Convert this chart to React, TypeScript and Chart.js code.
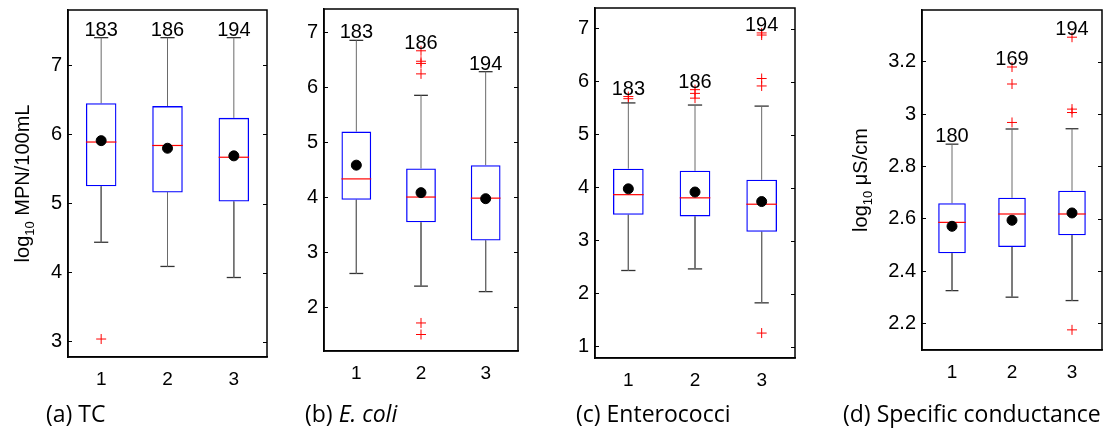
import React, { useEffect, useRef } from "react";
import { Chart, registerables } from "chart.js";

Chart.register(...registerables);

const FONT = "'Liberation Sans', Arial, Helvetica, sans-serif";
const CAPTION_FONT = "'Open Sans', 'Noto Sans', sans-serif";

// ---------- data ----------
const categories = [1, 2, 3];
const categoryLabels = ["1", "2", "3"];

// (a) TC
const tcQ1 = [5.25, 5.16, 5.03];
const tcQ3 = [6.45, 6.41, 6.24];
const tcMedian = [5.89, 5.84, 5.67];
const tcMean = [5.91, 5.8, 5.69];
const tcLow = [4.44, 4.09, 3.93];
const tcHigh = [7.4, 7.4, 7.4];
const tcOutX = [1];
const tcOutY = [3.04];
const tcCounts = [183, 186, 194];
const tcTicks = [3, 4, 5, 6, 7];

// (b) E. coli
const ecQ1 = [3.95, 3.54, 3.21];
const ecQ3 = [5.19, 4.52, 4.58];
const ecMedian = [4.33, 4.0, 3.98];
const ecMean = [4.58, 4.08, 3.97];
const ecLow = [2.61, 2.38, 2.28];
const ecHigh = [6.85, 5.85, 6.28];
const ecOutX = [2, 2, 2, 2, 2, 2];
const ecOutY = [6.66, 6.47, 6.43, 6.24, 1.71, 1.5];
const ecCounts = [183, 186, 194];
const ecTicks = [2, 3, 4, 5, 6, 7];

// (c) Enterococci
const enQ1 = [3.49, 3.46, 3.17];
const enQ3 = [4.36, 4.32, 4.15];
const enMedian = [3.87, 3.81, 3.69];
const enMean = [3.98, 3.92, 3.74];
const enLow = [2.44, 2.47, 1.83];
const enHigh = [5.6, 5.56, 5.54];
const enOutX = [1, 1, 2, 2, 2, 3, 3, 3, 3, 3];
const enOutY = [5.72, 5.68, 5.85, 5.78, 5.69, 6.92, 6.88, 6.06, 5.92, 1.26];
const enCounts = [183, 186, 194];
const enTicks = [1, 2, 3, 4, 5, 6, 7];

// (d) Specific conductance
const scQ1 = [2.468, 2.492, 2.537];
const scQ3 = [2.659, 2.68, 2.707];
const scMedian = [2.586, 2.618, 2.618];
const scMean = [2.571, 2.594, 2.622];
const scLow = [2.325, 2.3, 2.287];
const scHigh = [2.885, 2.943, 2.944];
const scOutX = [2, 2, 2, 3, 3, 3, 3];
const scOutY = [3.18, 3.115, 2.968, 3.294, 3.019, 3.006, 2.175];
const scCounts = [180, 169, 194];
const scTicks = [2.2, 2.4, 2.6, 2.8, 3, 3.2];

const titleMPN = ["log", "10", " MPN/100mL"];
const titleUS = ["log", "10", " \u03BCS/cm"];

const captionA = ["(a) ", "TC"];
const captionB = ["(b) ", "E. coli"];
const captionC = ["(c) ", "Enterococci"];
const captionD = ["(d) ", "Specific conductance"];

// ---------- layout (positions only) ----------
const CANVAS_H = 400;
const BOX_FRACTION = 0.46;

type PanelData = {
  q1: number[]; q3: number[]; median: number[]; mean: number[];
  low: number[]; high: number[]; outX: number[]; outY: number[];
  counts: number[]; yTicks: number[];
};
type PanelLayout = {
  left: number; width: number; plotLeft: number; plotRight: number;
  plotTop: number; plotBottom: number; yMin: number; yMax: number;
  title?: string[]; titleX?: number;
};

const panels: { data: PanelData; layout: PanelLayout }[] = [
  {
    data: { q1: tcQ1, q3: tcQ3, median: tcMedian, mean: tcMean, low: tcLow, high: tcHigh, outX: tcOutX, outY: tcOutY, counts: tcCounts, yTicks: tcTicks },
    layout: { left: 0, width: 280, plotLeft: 68, plotRight: 267, plotTop: 10, plotBottom: 357, yMin: 2.78, yMax: 7.8, title: titleMPN, titleX: 28.5 },
  },
  {
    data: { q1: ecQ1, q3: ecQ3, median: ecMedian, mean: ecMean, low: ecLow, high: ecHigh, outX: ecOutX, outY: ecOutY, counts: ecCounts, yTicks: ecTicks },
    layout: { left: 280, width: 270, plotLeft: 44, plotRight: 238, plotTop: 9, plotBottom: 351, yMin: 1.2, yMax: 7.42 },
  },
  {
    data: { q1: enQ1, q3: enQ3, median: enMedian, mean: enMean, low: enLow, high: enHigh, outX: enOutX, outY: enOutY, counts: enCounts, yTicks: enTicks },
    layout: { left: 550, width: 260, plotLeft: 45, plotRight: 245, plotTop: 8, plotBottom: 358, yMin: 0.79, yMax: 7.39 },
  },
  {
    data: { q1: scQ1, q3: scQ3, median: scMedian, mean: scMean, low: scLow, high: scHigh, outX: scOutX, outY: scOutY, counts: scCounts, yTicks: scTicks },
    layout: { left: 810, width: 300, plotLeft: 112, plotRight: 292, plotTop: 10, plotBottom: 350, yMin: 2.098, yMax: 3.398, title: titleUS, titleX: 56.5 },
  },
];

const captions = [
  { parts: captionA, italic: false, x: 46 },
  { parts: captionB, italic: true, x: 305 },
  { parts: captionC, italic: false, x: 576 },
  { parts: captionD, italic: false, x: 843 },
];

function drawRotatedTitle(ctx: CanvasRenderingContext2D, parts: string[], x: number, cy: number) {
  const [a, sub, b] = parts;
  ctx.save();
  ctx.translate(x, cy);
  ctx.rotate(-Math.PI / 2);
  ctx.fillStyle = "#000";
  ctx.textBaseline = "alphabetic";
  ctx.textAlign = "left";
  const big = `20px ${FONT}`;
  const small = `13px ${FONT}`;
  ctx.font = big;
  const wa = ctx.measureText(a).width;
  const wb = ctx.measureText(b).width;
  ctx.font = small;
  const ws = ctx.measureText(sub).width;
  let px = -(wa + ws + wb) / 2;
  ctx.font = big;
  ctx.fillText(a, px, 0);
  px += wa;
  ctx.font = small;
  ctx.fillText(sub, px, 5);
  px += ws;
  ctx.font = big;
  ctx.fillText(b, px, 0);
  ctx.restore();
}

function BoxPanel({ data, layout }: { data: PanelData; layout: PanelLayout }) {
  const ref = useRef<HTMLCanvasElement>(null);

  useEffect(() => {
    const canvas = ref.current;
    if (!canvas) return;
    const d = data;
    const L = layout;
    const pts = (arr: number[]) => arr.map((v, i) => ({ x: categories[i], y: v }));

    const whiskers: { x: number; y: number | null }[] = [];
    categories.forEach((c, i) => {
      whiskers.push({ x: c, y: d.q3[i] }, { x: c, y: d.high[i] }, { x: c, y: null });
      whiskers.push({ x: c, y: d.q1[i] }, { x: c, y: d.low[i] }, { x: c, y: null });
    });
    const caps = [...pts(d.high), ...pts(d.low)];
    const outliers = d.outX.map((x, i) => ({ x, y: d.outY[i] }));

    const unitPx = (ctx: any) => {
      const sc = ctx.chart.scales.x;
      return Math.abs(sc.getPixelForValue(2) - sc.getPixelForValue(1));
    };
    const halfBox = (ctx: any) => (unitPx(ctx) * BOX_FRACTION) / 2;
    const halfCap = (ctx: any) => (unitPx(ctx) * BOX_FRACTION) / 4.3;

    const framePlugin = {
      id: "frame",
      afterDraw(chart: any) {
        const { ctx, chartArea, scales } = chart;
        const { left, top, right, bottom } = chartArea;
        ctx.save();
        ctx.strokeStyle = "#000";
        ctx.lineWidth = 1.5;
        ctx.strokeRect(left, top, right - left, bottom - top);
        ctx.lineWidth = 1;
        scales.y.ticks.forEach((t: any) => {
          const py = Math.round(scales.y.getPixelForValue(t.value)) + 0.5;
          ctx.beginPath();
          ctx.moveTo(right, py);
          ctx.lineTo(right - 4, py);
          ctx.stroke();
        });
        if (L.title && L.titleX !== undefined) {
          drawRotatedTitle(ctx, L.title, L.titleX, (top + bottom) / 2);
        }
        ctx.restore();
      },
    };

    const countPlugin = {
      id: "counts",
      afterDatasetsDraw(chart: any) {
        const { ctx, scales } = chart;
        ctx.save();
        ctx.font = `20px ${FONT}`;
        ctx.fillStyle = "#000";
        ctx.textAlign = "center";
        ctx.textBaseline = "alphabetic";
        categories.forEach((c, i) => {
          const outs = d.outY.filter((_, k) => d.outX[k] === c);
          const topVal = Math.max(d.high[i], ...outs);
          ctx.fillText(String(d.counts[i]), scales.x.getPixelForValue(c), scales.y.getPixelForValue(topVal) - 2);
        });
        ctx.restore();
      },
    };

    const chart = new Chart(canvas, {
      type: "bar",
      data: {
        datasets: [
          {
            type: "line",
            label: "Mean",
            data: pts(d.mean),
            showLine: false,
            pointStyle: "circle",
            pointRadius: 5,
            pointBackgroundColor: "#000",
            pointBorderColor: "#000",
            pointBorderWidth: 1,
          },
          {
            type: "line",
            label: "Median",
            data: pts(d.median),
            showLine: false,
            pointStyle: "line",
            pointRadius: halfBox,
            pointBorderColor: "#ff0000",
            pointBorderWidth: 1.2,
          },
          {
            type: "bar",
            label: "Interquartile range",
            data: categories.map((c, i) => ({ x: c, y: [d.q1[i], d.q3[i]] })),
            backgroundColor: "rgba(0,0,0,0)",
            borderColor: "#0000ff",
            borderWidth: 1.3,
            borderSkipped: false,
            barPercentage: BOX_FRACTION,
            categoryPercentage: 1,
          },
          {
            type: "line",
            label: "Whiskers",
            data: whiskers,
            borderColor: "#6a6a6a",
            borderWidth: 1,
            pointRadius: 0,
            spanGaps: false,
          },
          {
            type: "line",
            label: "Whisker caps",
            data: caps,
            showLine: false,
            pointStyle: "line",
            pointRadius: halfCap,
            pointBorderColor: "#333",
            pointBorderWidth: 1.3,
          },
          {
            type: "line",
            label: "Outliers",
            data: outliers,
            showLine: false,
            pointStyle: "cross",
            pointRadius: 5,
            pointBorderColor: "#ff0000",
            pointBorderWidth: 1,
          },
        ] as any,
      },
      options: {
        animation: false,
        responsive: false,
        events: [],
        layout: {
          padding: { left: 0, right: L.width - L.plotRight, top: L.plotTop, bottom: 0 },
        },
        plugins: { legend: { display: false }, tooltip: { enabled: false } },
        scales: {
          x: {
            type: "linear",
            min: 0.5,
            max: 3.5,
            offset: false,
            afterBuildTicks: (sc: any) => {
              sc.ticks = categories.map((v) => ({ value: v }));
            },
            afterFit: (sc: any) => {
              sc.height = CANVAS_H - L.plotBottom;
              sc.paddingLeft = 0;
              sc.paddingRight = 0;
            },
            ticks: {
              callback: (_v: any, i: number) => categoryLabels[i],
              color: "#000",
              font: { family: FONT, size: 19 },
              padding: 3,
              maxRotation: 0,
              autoSkip: false,
            },
            grid: { display: false },
            border: { display: true, color: "#000", width: 1.5 },
          },
          y: {
            type: "linear",
            min: L.yMin,
            max: L.yMax,
            afterBuildTicks: (sc: any) => {
              sc.ticks = d.yTicks.map((v) => ({ value: v }));
            },
            afterFit: (sc: any) => {
              sc.width = L.plotLeft;
              sc.paddingTop = 0;
              sc.paddingBottom = 0;
            },
            ticks: {
              callback: (v: any) => String(v),
              color: "#000",
              font: { family: FONT, size: 20 },
              padding: 10,
              autoSkip: false,
            },
            grid: {
              drawOnChartArea: false,
              drawTicks: true,
              tickLength: -4,
              tickColor: "#000",
              tickWidth: 1,
            },
            border: { display: true, color: "#000", width: 1.5 },
          },
        },
      } as any,
      plugins: [framePlugin, countPlugin],
    });

    return () => chart.destroy();
  }, [data, layout]);

  return (
    <canvas
      ref={ref}
      width={layout.width}
      height={CANVAS_H}
      style={{ position: "absolute", left: layout.left, top: 0, width: layout.width, height: CANVAS_H }}
    />
  );
}

export default function App() {
  return (
    <div
      style={{
        position: "fixed",
        left: 0,
        top: 0,
        width: 1110,
        height: 436,
        background: "#fff",
        overflow: "hidden",
      }}
    >
      {panels.map((p, i) => (
        <BoxPanel key={i} data={p.data} layout={p.layout} />
      ))}
      {captions.map((c, i) => (
        <div
          key={"cap" + i}
          style={{
            position: "absolute",
            left: c.x,
            top: 399,
            fontFamily: CAPTION_FONT,
            fontSize: 23,
            lineHeight: "28px",
            color: "#000",
            whiteSpace: "nowrap",
          }}
        >
          {c.parts[0]}
          {c.italic ? <i>{c.parts[1]}</i> : c.parts[1]}
        </div>
      ))}
    </div>
  );
}
